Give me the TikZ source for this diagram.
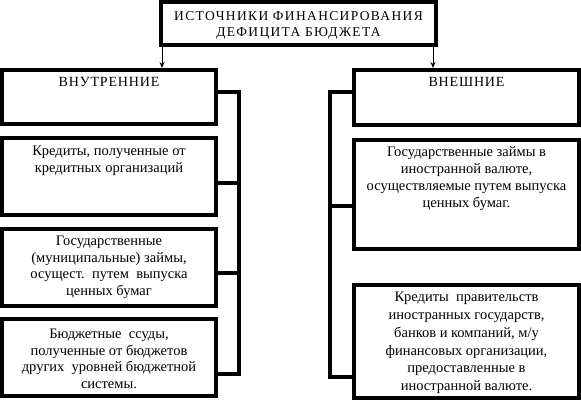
\documentclass[tikz,border=0pt]{standalone}
\usepackage{fontspec}
\setmainfont{Liberation Serif}
\usetikzlibrary{arrows.meta,calc}
\newfontfamily\capsfont[LetterSpace=10]{Liberation Serif}
\newfontfamily\headfont[LetterSpace=6]{Liberation Serif}
\tikzset{
  box/.style={draw=black, line width=4pt, fill=white, inner sep=0pt, rectangle},
  txt/.style={anchor=north, inner sep=0pt, align=center, font=\fontsize{14.5}{16.5}\selectfont},
  conn/.style={draw=black, line width=4.5pt, line join=miter},
  arr/.style={draw=black, line width=0.8pt, -{Stealth[length=6pt,width=5pt]}},
}
\begin{document}
\begin{tikzpicture}[x=1pt,y=-1pt]
\useasboundingbox (0,0) rectangle (581,400);
% boxes
\node[box, minimum width=275, minimum height=43] (top) at (298.5,23.5) {};
\node[box, minimum width=214, minimum height=54] (vn) at (109,97) {};
\node[box, minimum width=214, minimum height=77] (l2) at (109,176.5) {};
\node[box, minimum width=214, minimum height=77] (l3) at (109,267.5) {};
\node[box, minimum width=214, minimum height=77] (l4) at (109,357.5) {};
\node[box, minimum width=225, minimum height=55] (ve) at (466.5,97.5) {};
\node[box, minimum width=225, minimum height=109] (r2) at (466.5,194.5) {};
\node[box, minimum width=225, minimum height=113] (r3) at (466.5,341.5) {};
% texts
\node[txt, font=\capsfont\fontsize{13.5}{16}\selectfont] (ttop) at (298.5,11) {ИСТОЧНИКИ ФИНАНСИРОВАНИЯ\\ДЕФИЦИТА БЮДЖЕТА};
\node[txt, font=\headfont\fontsize{14}{16}\selectfont] (tvn) at (109,77) {ВНУТРЕННИЕ};
\node[txt, font=\headfont\fontsize{14}{16}\selectfont] (tve) at (466.5,77) {ВНЕШНИЕ};
\node[txt] (tl2) at (109,146) {Кредиты, полученные от\\кредитных организаций};
\node[txt] (tl3) at (109,236) {Государственные\\(муниципальные) займы,\\осущест.\ \ путем\ \ выпуска\\ценных бумаг};
\node[txt] (tl4) at (109,329) {Бюджетные\ \ ссуды,\\полученные от бюджетов\\других\ \ уровней бюджетной\\системы.};
\node[txt, font=\fontsize{14.5}{17}\selectfont] (tr2) at (466.5,146) {Государственные займы в\\иностранной валюте,\\осуществляемые путем выпуска\\ценных бумаг.};
\node[txt, font=\fontsize{14.5}{17.8}\selectfont] (tr3) at (466.5,292) {Кредиты\ \ правительств\\иностранных государств,\\банков и компаний, м/у\\финансовых организации,\\предоставленные в\\иностранной валюте.};
% arrows
\draw[arr] (top.south -| 162,0) -- (vn.north -| 162,0);
\draw[arr] (top.south -| 433,0) -- (ve.north -| 433,0);
% left bus
\coordinate (lb1) at (239,92);
\coordinate (lb4) at (239,374);
\draw[conn] (vn.east |- lb1) -- (lb1) -- (lb4) -- (l4.east |- lb4);
\draw[conn] (l2.east |- 0,183) -- (lb1 |- 0,183);
\draw[conn] (l3.east |- 0,273) -- (lb1 |- 0,273);
% right bus
\coordinate (rb1) at (330,92);
\coordinate (rb3) at (330,377);
\draw[conn] (ve.west |- rb1) -- (rb1) -- (rb3) -- (r3.west |- rb3);
\draw[conn] (r2.west |- 0,206) -- (rb1 |- 0,206);
\end{tikzpicture}
\end{document}
